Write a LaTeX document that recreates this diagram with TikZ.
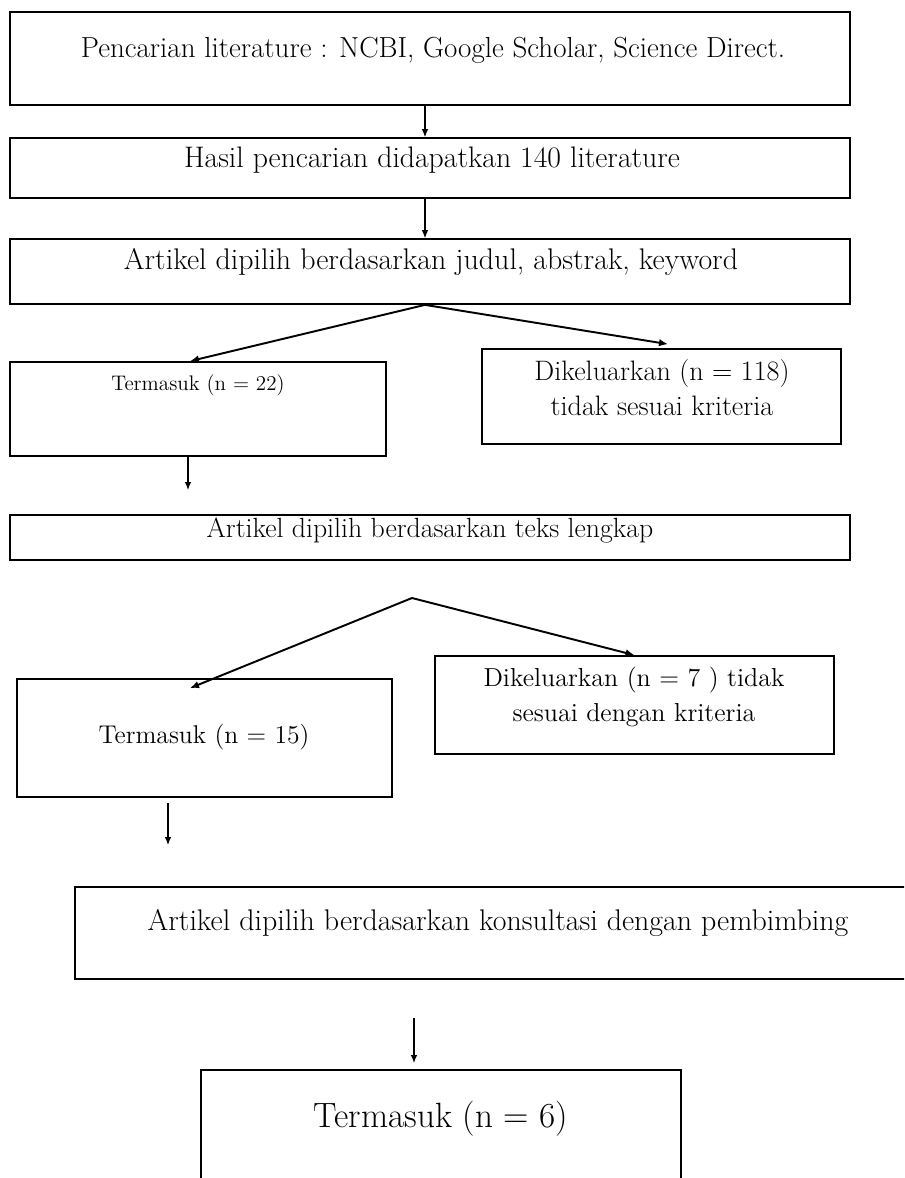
\documentclass[tikz,border=0pt]{standalone}
\usepackage{tikz}
\usetikzlibrary{positioning, arrows.meta}

\begin{document}
\begin{tikzpicture}[x=0.02cm, y=-0.02cm]
            \tikzset{box/.style = {draw, line width=1pt, inner sep=0pt}}
            \tikzset{txt/.style = {inner sep=0pt, align=center}}
            \tikzset{edge/.style = {-{Latex[length=1.6mm,width=1.3mm]}, line width=0.6pt}}
            \tikzset{splitedge/.style = {-{Latex[length=1.8mm,width=1.5mm]}, line width=1.1pt}}

            \useasboundingbox (0,0) rectangle (904,1178);
            \clip (0,0) rectangle (904,1178);

            % search and screening
            \node[box, minimum width=16.8cm, minimum height=1.86cm] (search) at (430,58.5) {};
            \node[txt, anchor=base, font=\fontsize{16.5}{20}\selectfont] (searchtxt) at (433,57)
                {Pencarian literature : NCBI, Google Scholar, Science Direct.};
            \node[box, minimum width=16.8cm, minimum height=1.2cm] (result) at (430,168) {};
            \node[txt, anchor=base, font=\fontsize{16.9}{20}\selectfont] (resulttxt) at (432,167)
                {Hasil pencarian didapatkan 140 literature};
            \node[box, minimum width=16.8cm, minimum height=1.3cm] (select) at (430,271.5) {};
            \node[txt, anchor=base, font=\fontsize{17}{20}\selectfont] (selecttxt) at (431,269)
                {Artikel dipilih berdasarkan judul, abstrak, keyword};

            \draw[edge] ([xshift=-0.1cm]search.south) -- ([xshift=-0.1cm]result.north);
            \draw[edge] ([xshift=-0.1cm]result.south) -- ([xshift=-0.1cm]select.north);

            % first split
            \node[box, minimum width=7.52cm, minimum height=1.88cm] (incl22) at (198,409) {};
            \node[txt, anchor=base, font=\fontsize{12}{14}\selectfont] (incl22txt) at (198,390)
                {Termasuk (n = 22)};
            \node[box, minimum width=7.18cm, minimum height=1.9cm] (excl118) at (661.5,396.5) {};
            \node[txt, font=\fontsize{16}{20}\selectfont] (excl118txt) at (662,388)
                {Dikeluarkan (n = 118)\\tidak sesuai kriteria};

            \draw[splitedge] ([xshift=-0.1cm]select.south) -- ([xshift=-0.16cm]incl22.north);
            \draw[splitedge] ([xshift=-0.1cm]select.south) -- ([shift={(0.13cm,0.08cm)}]excl118.north);

            \coordinate (d22) at (188,490);
            \draw[edge] (incl22.south -| d22) -- (d22);

            % full text
            \node[box, minimum width=16.8cm, minimum height=0.9cm] (fulltext) at (430,537.5) {};
            \node[txt, anchor=base, font=\fontsize{15.8}{18}\selectfont] (fulltexttxt) at (430,537)
                {Artikel dipilih berdasarkan teks lengkap};

            % second split
            \coordinate (split2) at (412,598);
            \node[box, minimum width=7.5cm, minimum height=2.36cm] (incl15) at (204.5,738) {};
            \node[txt, anchor=base, font=\fontsize{14.6}{20}\selectfont] (incl15txt) at (204,743)
                {Termasuk (n = 15)};
            \node[box, minimum width=7.98cm, minimum height=1.96cm] (excl7) at (634.5,705) {};
            \node[txt, font=\fontsize{14.8}{20}\selectfont] (excl7txt) at (634,697)
                {Dikeluarkan (n = 7 ) tidak\\sesuai dengan kriteria};

            \draw[splitedge] (split2) -- ([shift={(-0.29cm,-0.2cm)}]incl15.north);
            \draw[splitedge] (split2) -- (excl7.north);

            \coordinate (d15a) at (168,803);
            \coordinate (d15b) at (168,845);
            \draw[edge] (d15a) -- (d15b);

            % consultation
            \node[box, minimum width=17.2cm, minimum height=1.84cm] (consult) at (505,933) {};
            \node[txt, anchor=base, font=\fontsize{17}{20}\selectfont] (consulttxt) at (498,930)
                {Artikel dipilih berdasarkan konsultasi dengan pembimbing};

            \coordinate (c1) at (414,1018);
            \coordinate (c2) at (414,1063);
            \draw[edge] (c1) -- (c2);

            \node[box, minimum width=9.6cm, minimum height=2.6cm] (final) at (441,1135) {};
            \node[txt, anchor=base, font=\fontsize{20}{24}\selectfont] (finaltxt) at (441,1127)
                {Termasuk (n = 6)};

\end{tikzpicture}
\end{document}
